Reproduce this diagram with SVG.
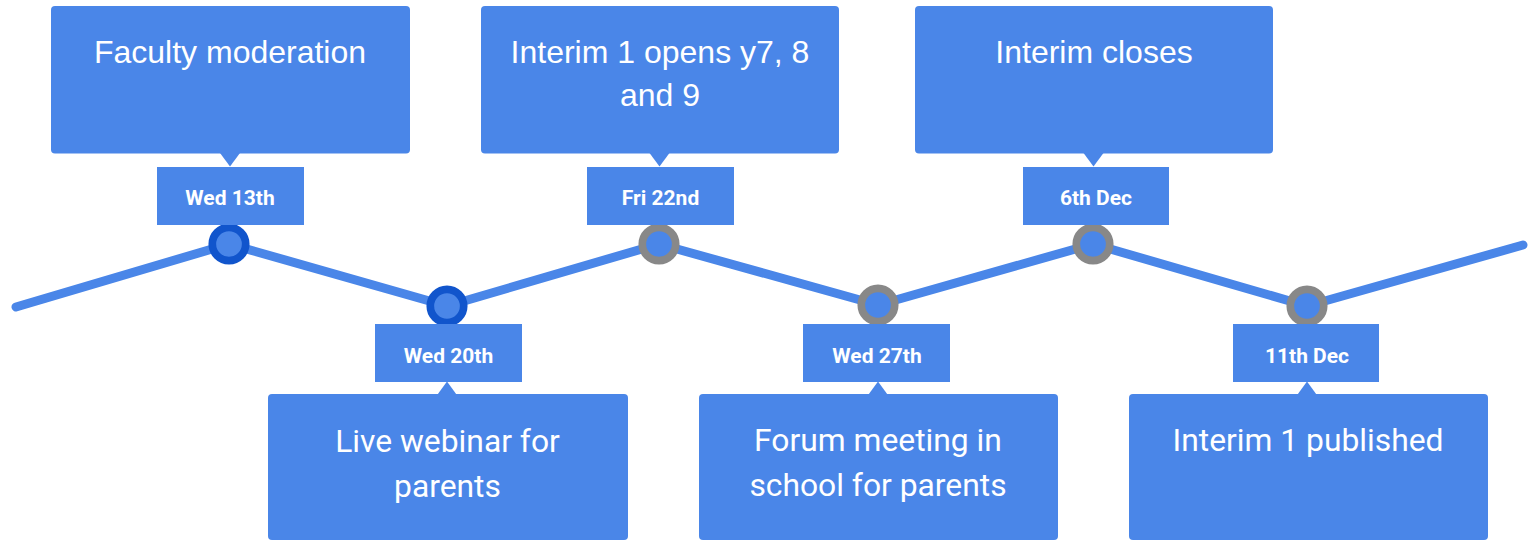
<svg xmlns="http://www.w3.org/2000/svg" width="1528" height="541" viewBox="0 0 1528 541">
  <style>
    .box { fill: #4a86e8; }
    .date { fill: #4a86e8; }
    .big { font-family: "Liberation Sans", Arial, sans-serif; font-size: 32px; fill: #ffffff; text-anchor: middle; }
    .big2 { font-family: Roboto, "Liberation Sans", sans-serif; font-size: 31.8px; fill: #ffffff; text-anchor: middle; }
    .dt { font-family: Roboto, "Liberation Sans", sans-serif; font-size: 21px; font-weight: bold; fill: #ffffff; text-anchor: middle; }
    .line { fill: none; stroke: #4a86e8; stroke-width: 9; stroke-linecap: round; stroke-linejoin: round; }
    .dot { fill: #4a86e8; stroke-width: 7.7; }
    .done { stroke: #1155cc; }
    .todo { stroke: #888888; }
  </style>
  <g id="connectors">
    <polyline class="line" points="16,307 229,244 447,306 659,244 878,305 1093,244 1307,306 1523,245"/>
  </g>
  <g id="node-faculty-moderation">
    <circle class="dot done" cx="229" cy="244" r="16.7"/>
    <rect class="box" x="51" y="6" width="359" height="147.5" rx="4"/>
    <polygon class="box" points="220,153 240,153 230,166.5"/>
    <rect class="date" x="157" y="167" width="147" height="58"/>
    <text class="big" x="230" y="62.5">Faculty moderation</text>
    <text class="dt" x="230" y="204.5">Wed 13th</text>
  </g>
  <g id="node-live-webinar">
    <circle class="dot done" cx="447" cy="306" r="16.7"/>
    <rect class="date" x="375" y="324" width="147" height="58"/>
    <rect class="box" x="268" y="394" width="360" height="146" rx="4"/>
    <polygon class="box" points="437.5,394.5 456.5,394.5 447,381.5"/>
    <text class="dt" x="448.5" y="362.5">Wed 20th</text>
    <text class="big2" x="447.5" y="451.5">Live webinar for</text>
    <text class="big2" x="447.5" y="496.5">parents</text>
  </g>
  <g id="node-interim-opens">
    <circle class="dot todo" cx="659" cy="244" r="16.7"/>
    <rect class="box" x="481" y="6" width="358" height="147.5" rx="4"/>
    <polygon class="box" points="649.5,153 669.5,153 659.5,166.5"/>
    <rect class="date" x="587" y="167" width="147" height="58"/>
    <text class="big" x="660" y="62.5">Interim 1 opens y7, 8</text>
    <text class="big" x="660" y="106">and 9</text>
    <text class="dt" x="660.5" y="204.5">Fri 22nd</text>
  </g>
  <g id="node-forum-meeting">
    <circle class="dot todo" cx="878" cy="305" r="16.7"/>
    <rect class="date" x="803" y="324" width="147" height="58"/>
    <rect class="box" x="699" y="394" width="359" height="146" rx="4"/>
    <polygon class="box" points="868.5,394.5 887.5,394.5 878,381.5"/>
    <text class="dt" x="877" y="362.5">Wed 27th</text>
    <text class="big2" x="878" y="451">Forum meeting in</text>
    <text class="big2" x="878" y="495.5">school for parents</text>
  </g>
  <g id="node-interim-closes">
    <circle class="dot todo" cx="1093" cy="244" r="16.7"/>
    <rect class="box" x="915" y="6" width="358" height="147.5" rx="4"/>
    <polygon class="box" points="1083.5,153 1103.5,153 1093.5,166.5"/>
    <rect class="date" x="1023" y="167" width="146" height="58"/>
    <text class="big" x="1094" y="62.5">Interim closes</text>
    <text class="dt" x="1096" y="204.5">6th Dec</text>
  </g>
  <g id="node-interim-published">
    <circle class="dot todo" cx="1307" cy="306" r="16.7"/>
    <rect class="date" x="1233" y="324" width="146" height="58"/>
    <rect class="box" x="1129" y="394" width="359" height="146" rx="4"/>
    <polygon class="box" points="1297.5,394.5 1316.5,394.5 1307,381.5"/>
    <text class="dt" x="1307" y="362.5">11th Dec</text>
    <text class="big2" x="1308" y="451">Interim 1 published</text>
  </g>
</svg>
